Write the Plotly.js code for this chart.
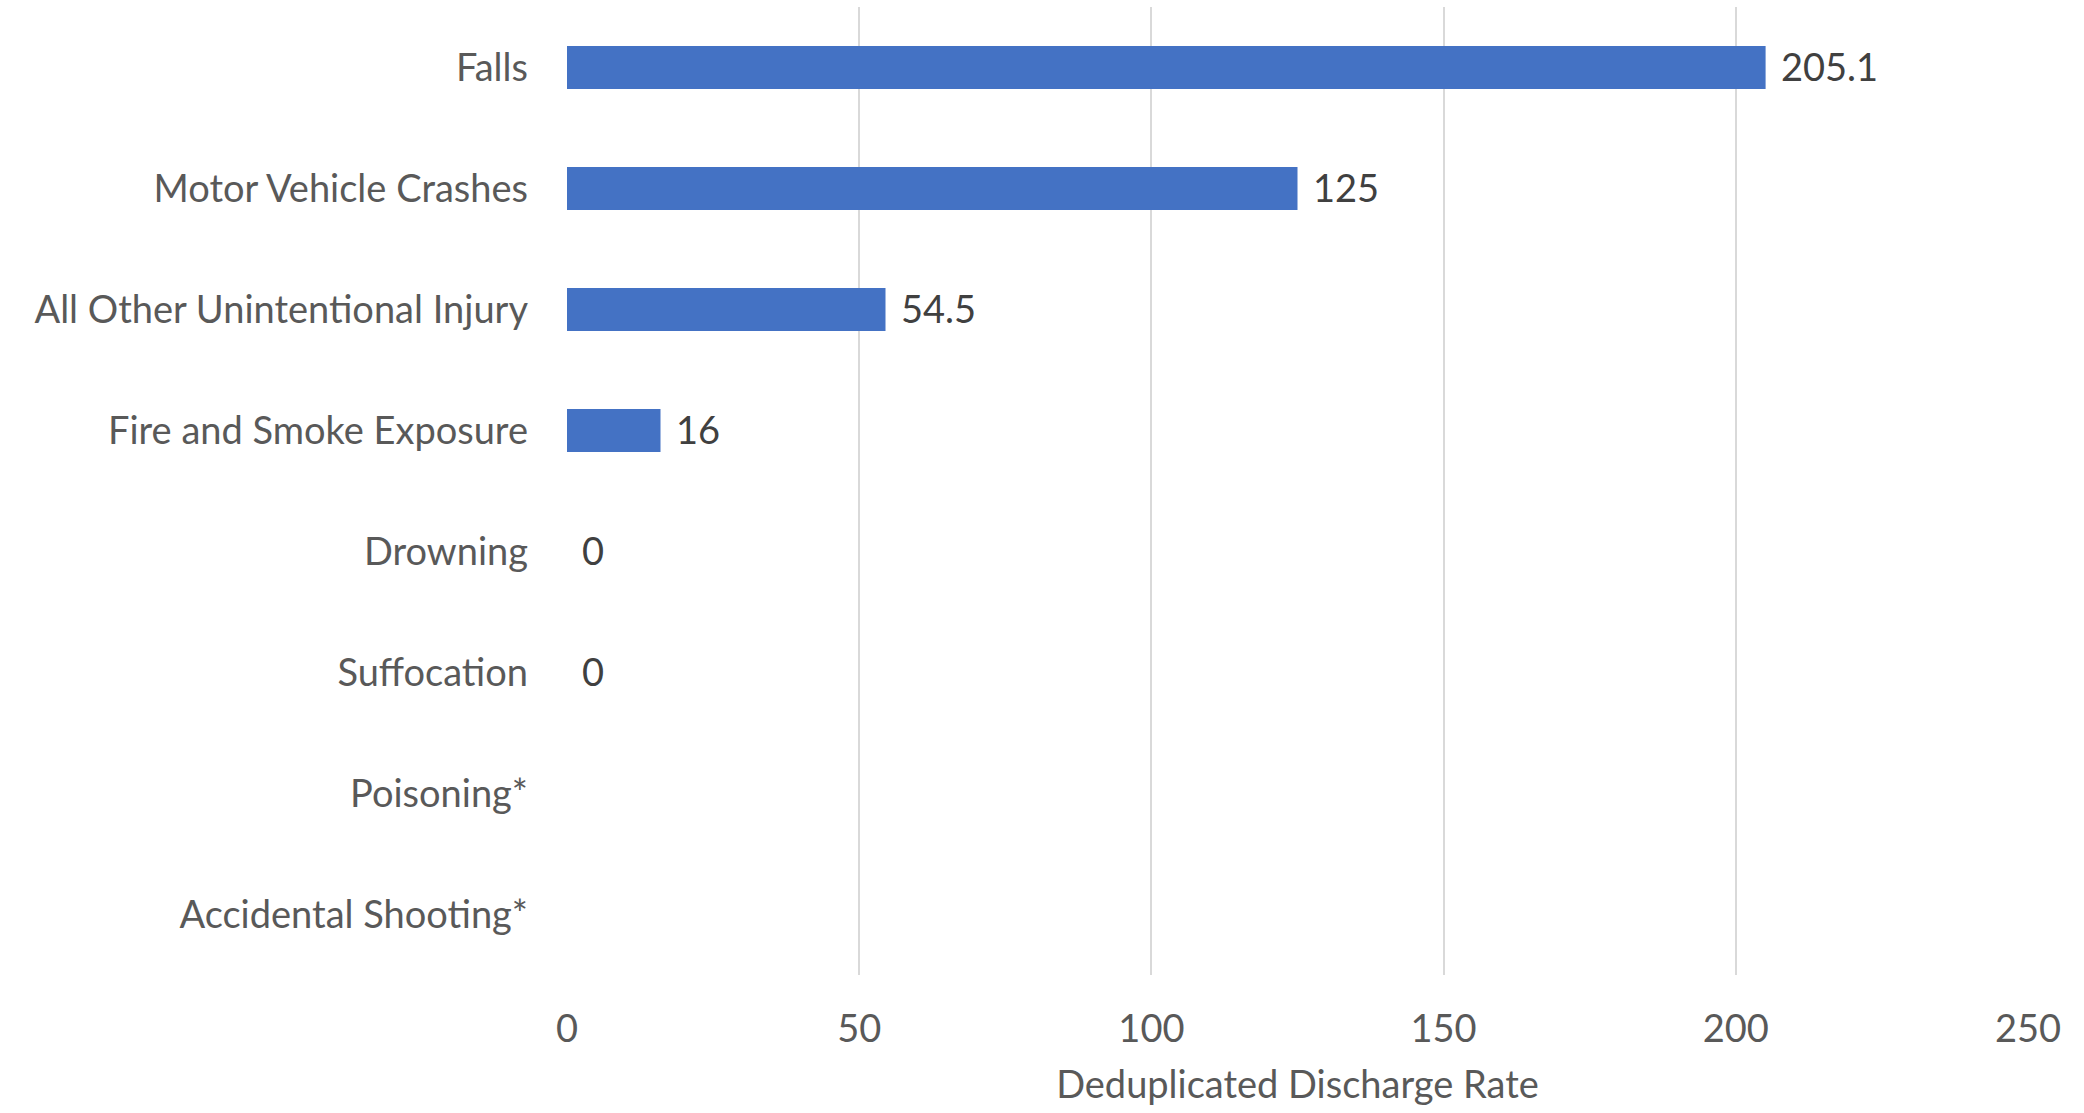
<!DOCTYPE html>
<html>
<head>
<meta charset="utf-8">
<script src="https://cdn.plot.ly/plotly-3.0.1.min.js"></script>
<style>html,body{margin:0;padding:0;background:#fff;}#chart{width:2084px;height:1113px;}</style>
</head>
<body>
<div id="chart"></div>
<script>
const categories = ["Falls","Motor Vehicle Crashes","All Other Unintentional Injury","Fire and Smoke Exposure","Drowning","Suffocation","Poisoning*","Accidental Shooting*"];
const rates = [205.1, 125, 54.5, 16, 0, 0, null, null];
const xTicks = [0, 50, 100, 150, 200, 250];
const xTitle = "Deduplicated Discharge Rate";

const FONT = "Lato, 'Open Sans', sans-serif";
const FS = 38;

const annotations = [];
categories.forEach((c, i) => {
  if (rates[i] !== null) {
    annotations.push({
      x: rates[i], y: c, xref: 'x', yref: 'y',
      text: String(rates[i]), showarrow: false,
      xanchor: 'left', yanchor: 'middle', xshift: 13, yshift: 2,
      font: {family: FONT, size: FS, color: '#404040'}
    });
  }
});

const trace = {
  type: 'bar', orientation: 'h',
  x: rates, y: categories,
  marker: {color: '#4472C4'},
  hoverinfo: 'none'
};

const layout = {
  width: 2084, height: 1113,
  margin: {l: 567, r: 56, t: 7, b: 138},
  paper_bgcolor: '#fff', plot_bgcolor: '#fff',
  showlegend: false,
  bargap: 0.645,
  font: {family: FONT, color: '#595959', size: FS},
  xaxis: {
    range: [0, 250], tickvals: xTicks, ticktext: xTicks.map(String),
    showgrid: true, gridcolor: '#d9d9d9', gridwidth: 2,
    zeroline: false, showline: false,
    ticks: '', ticklabelstandoff: 28,
    tickfont: {family: FONT, size: FS, color: '#595959'},
    title: {text: xTitle, font: {family: FONT, size: FS, color: '#595959'}, standoff: 22},
    fixedrange: true
  },
  yaxis: {
    type: 'category', categoryorder: 'array', categoryarray: categories,
    autorange: 'reversed',
    showgrid: false, zeroline: false, showline: false,
    ticks: '', ticklabelstandoff: 38,
    tickfont: {family: FONT, size: FS, color: '#595959'},
    fixedrange: true
  },
  annotations: annotations
};

Plotly.newPlot('chart', [trace], layout, {displayModeBar: false, staticPlot: true});
</script>
</body>
</html>
